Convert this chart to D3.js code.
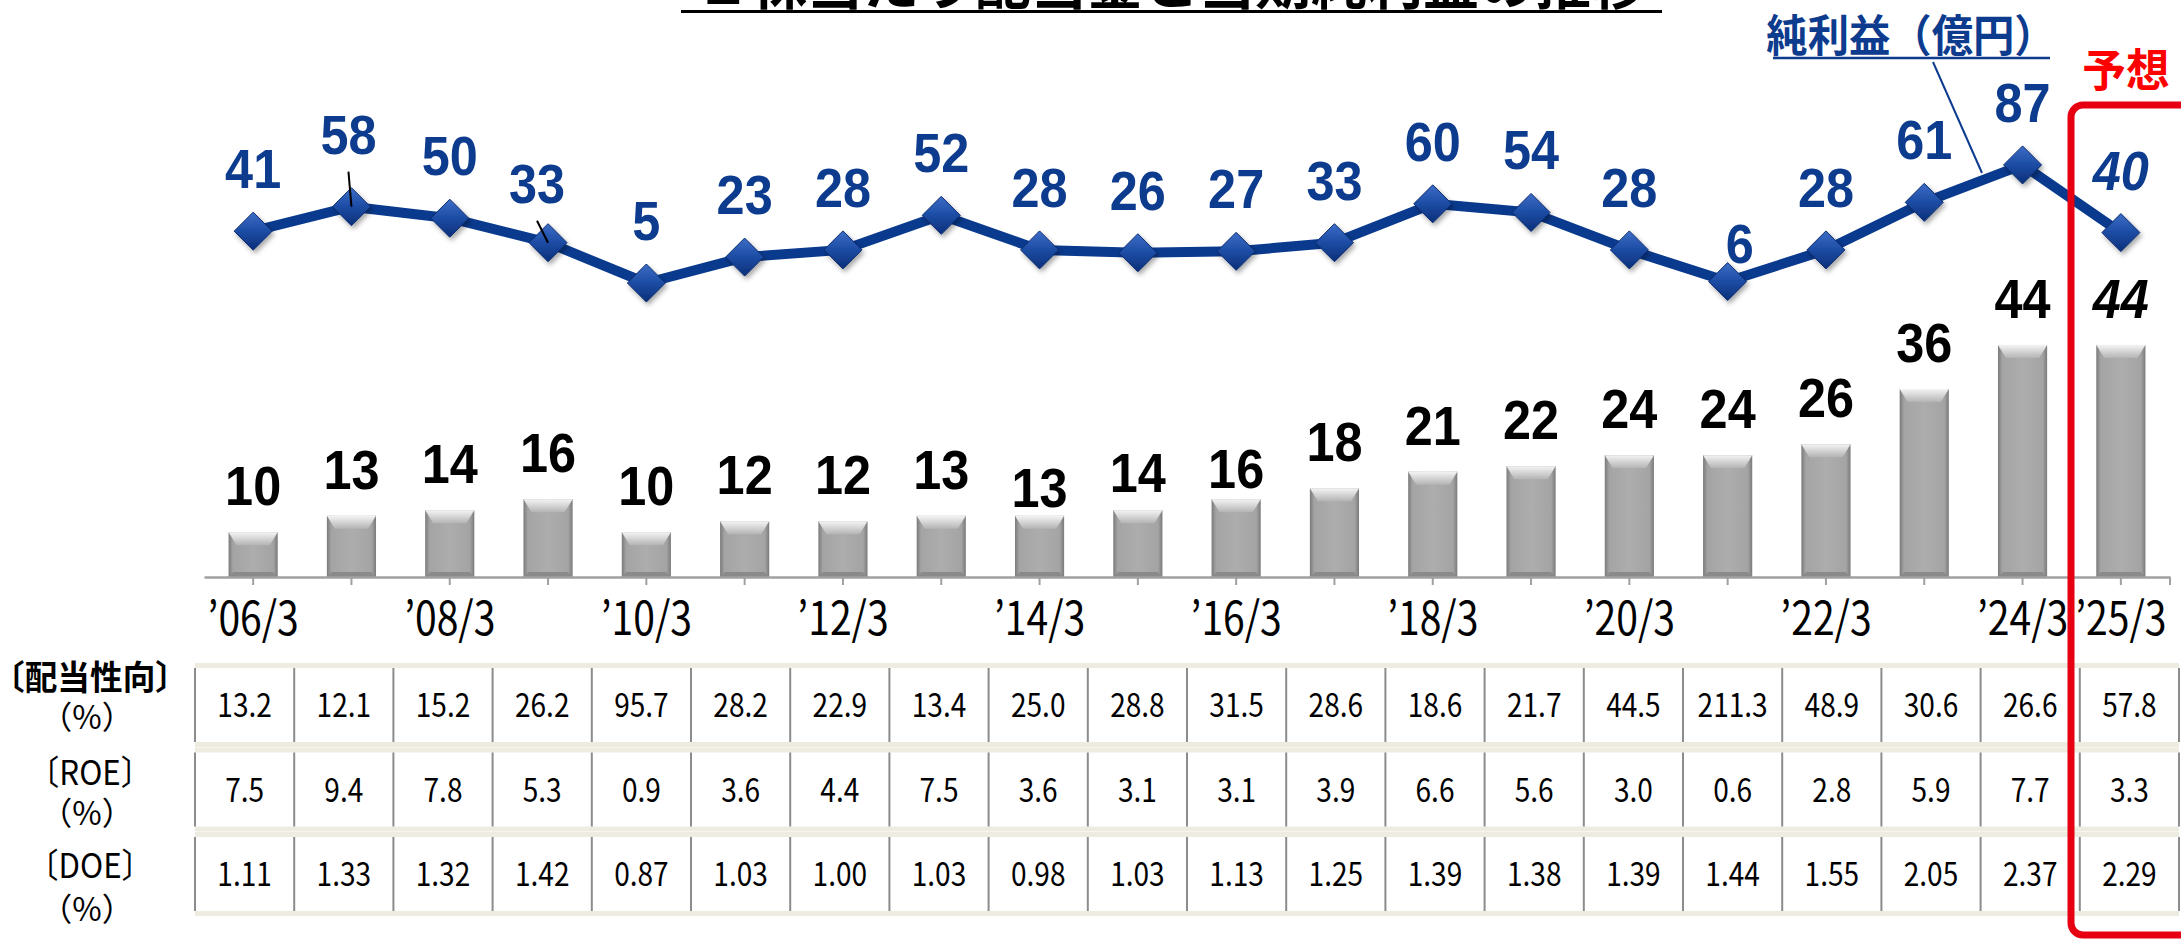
<!DOCTYPE html>
<html lang="ja">
<head>
<meta charset="UTF-8">
<title>1株当たり配当金と当期純利益の推移</title>
<script src="https://d3js.org/d3.v7.min.js"></script>
<style>
  body { margin: 0; background: #fff; }
  svg { display: block; }
</style>
</head>
<body>
<svg id="chart" width="2181" height="941"></svg>
<script>
// fiscal years (March year-end)
const categories = ["06/3", "07/3", "08/3", "09/3", "10/3", "11/3", "12/3", "13/3", "14/3", "15/3",
                    "16/3", "17/3", "18/3", "19/3", "20/3", "21/3", "22/3", "23/3", "24/3", "25/3"];
const tickLabels = ["’06/3", "’08/3", "’10/3", "’12/3", "’14/3", "’16/3", "’18/3", "’20/3", "’22/3", "’24/3", "’25/3"];
// dividend per share (yen) - bars
const dividend = [10, 13, 14, 16, 10, 12, 12, 13, 13, 14, 16, 18, 21, 22, 24, 24, 26, 36, 44, 44];
// net income (100M yen) - line
const netIncome = [41, 58, 50, 33, 5, 23, 28, 52, 28, 26, 27, 33, 60, 54, 28, 6, 28, 61, 87, 40];
// table rows
const payoutRatio = [13.2, 12.1, 15.2, 26.2, 95.7, 28.2, 22.9, 13.4, 25.0, 28.8, 31.5, 28.6, 18.6, 21.7, 44.5, 211.3, 48.9, 30.6, 26.6, 57.8];
const roe = [7.5, 9.4, 7.8, 5.3, 0.9, 3.6, 4.4, 7.5, 3.6, 3.1, 3.1, 3.9, 6.6, 5.6, 3.0, 0.6, 2.8, 5.9, 7.7, 3.3];
const doe = [1.11, 1.33, 1.32, 1.42, 0.87, 1.03, 1.00, 1.03, 0.98, 1.03, 1.13, 1.25, 1.39, 1.38, 1.39, 1.44, 1.55, 2.05, 2.37, 2.29];
const rowLabels = ["〔配当性向〕", "〔ROE〕", "〔DOE〕"];
const unitLabel = "（%）";
const forecastCat = "25/3";

const titleText = "１株当たり配当金と当期純利益の推移";
const seriesName = "純利益（億円）";
const forecastText = "予想";

const JP = '"Noto Sans CJK JP", "Noto Sans", sans-serif';
const NUM = '"Liberation Sans", Arial, sans-serif';
const BLUE = "#0d3b8e";

const svg = d3.select("#chart");
const axisY = 577;

const x = d3.scaleBand().domain(categories).range([204, 2170]).paddingInner(0.5).paddingOuter(0.25);
const xt = d3.scaleBand().domain(categories).range([195, 2179]);
const yBar = d3.scaleLinear().domain([0, 50]).range([587.4, 311.9]);
const yLine = d3.scaleLinear().domain([0, 100]).range([290.2, 146.2]);
const cx = d => x(d) + x.bandwidth() / 2;

// manual label nudges as in the original slide
const barLabelShift = {8: 18, 9: 9, 10: 16};
const lineLabelShift = {1: [-3, -10], 3: [-11, 3], 15: [12, 24]};
const leaders = [1, 3];

// text helper with horizontal squeeze
function txt(g, tx, ty, s, o) {
  return g.append("text")
    .attr("transform", `translate(${tx},${ty}) scale(${o.sx || 1},1)`)
    .attr("text-anchor", o.anchor || "middle")
    .attr("font-family", o.family || JP)
    .attr("font-size", o.size)
    .attr("font-weight", o.weight || "normal")
    .attr("font-style", o.style || "normal")
    .attr("fill", o.fill || "#000")
    .text(s);
}

// gradients
const defs = svg.append("defs");
function grad(id, horiz, stops) {
  const g = defs.append("linearGradient").attr("id", id)
    .attr("x1", 0).attr("y1", 0).attr("x2", horiz ? 1 : 0).attr("y2", horiz ? 0 : 1);
  stops.forEach(([o, c]) => g.append("stop").attr("offset", o).attr("stop-color", c));
}
grad("barSide", true, [[0, "#7a7a7a"], [0.09, "#a4a4a4"], [0.5, "#adadad"], [0.91, "#a4a4a4"], [1, "#7a7a7a"]]);
grad("barTop", false, [[0, "#f4f4f4"], [1, "#b4b4b4"]]);
grad("dia", false, [[0, "#3d6dc6"], [0.5, "#1c4ca4"], [1, "#0b2f78"]]);
const sh = defs.append("filter").attr("id", "shadow").attr("x", "-50%").attr("y", "-50%").attr("width", "200%").attr("height", "200%");
sh.append("feDropShadow").attr("dx", 2).attr("dy", 3).attr("stdDeviation", 2.5).attr("flood-color", "#000").attr("flood-opacity", 0.35);

// title (cut off at the top of the slide)
txt(svg, 1171, 4, titleText, {size: 56, weight: "bold"});
svg.append("line").attr("x1", 681).attr("x2", 1662).attr("y1", 11.5).attr("y2", 11.5)
  .attr("stroke", "#000").attr("stroke-width", 3);

// bars
const bars = svg.append("g");
bars.selectAll("rect").data(categories).join("rect")
  .attr("x", d => x(d))
  .attr("y", (d, i) => yBar(dividend[i]))
  .attr("width", x.bandwidth())
  .attr("height", (d, i) => axisY - yBar(dividend[i]))
  .attr("fill", "url(#barSide)");
bars.selectAll("path.top").data(categories).join("path").attr("class", "top")
  .attr("d", (d, i) => {
    const x0 = x(d), x1 = x0 + x.bandwidth(), y0 = yBar(dividend[i]);
    return `M${x0},${y0}H${x1}L${x1 - 8},${y0 + 13}H${x0 + 8}Z`;
  })
  .attr("fill", "url(#barTop)");
bars.selectAll("path.bot").data(categories).join("path").attr("class", "bot")
  .attr("d", d => {
    const x0 = x(d), x1 = x0 + x.bandwidth();
    return `M${x0},${axisY}H${x1}L${x1 - 5},${axisY - 5}H${x0 + 5}Z`;
  })
  .attr("fill", "#8a8a8a");

// x axis
const axis = d3.axisBottom(x).tickSize(8).tickSizeOuter(0)
  .tickFormat(d => tickLabels.includes("’" + d) ? "’" + d : "");
const ax = svg.append("g").attr("transform", `translate(0,${axisY})`).call(axis);
ax.select(".domain").attr("stroke", "#a0a0a0").attr("stroke-width", 2.5);
ax.selectAll(".tick line").attr("stroke", "#a0a0a0").attr("stroke-width", 2);
ax.selectAll(".tick text")
  .attr("y", 58).attr("dy", null)
  .attr("fill", "#000")
  .attr("font-family", JP).attr("font-size", 46)
  .attr("transform", "scale(0.85,1)");
ax.append("line").attr("x1", x.range()[1]).attr("x2", x.range()[1]).attr("y1", 0).attr("y2", 8)
  .attr("stroke", "#a0a0a0").attr("stroke-width", 2);

// bar value labels
const barLab = svg.append("g");
categories.forEach((c, i) => {
  txt(barLab, cx(c), yBar(dividend[i]) - 27 + (barLabelShift[i] || 0), dividend[i],
    {family: NUM, size: 56, weight: "bold", sx: 0.9, style: c === forecastCat ? "italic" : "normal"});
});

// net income line
const line = d3.line().x((d, i) => cx(categories[i])).y(d => yLine(d));
svg.append("path").datum(netIncome)
  .attr("d", line)
  .attr("fill", "none")
  .attr("stroke", "#0a3a8e")
  .attr("stroke-width", 10)
  .attr("stroke-linejoin", "round");

svg.append("g").selectAll("path").data(netIncome).join("path")
  .attr("transform", (d, i) => `translate(${cx(categories[i])},${yLine(d)})`)
  .attr("d", "M0,-19L19,0L0,19L-19,0Z")
  .attr("fill", "url(#dia)")
  .attr("stroke", "#0a2c70")
  .attr("stroke-width", 1)
  .attr("filter", "url(#shadow)");

// net income labels and leader lines
const lineLab = svg.append("g");
categories.forEach((c, i) => {
  const [dx, dy] = lineLabelShift[i] || [0, 0];
  const lx = cx(c) + dx, ly = yLine(netIncome[i]) - 43 + dy;
  txt(lineLab, lx, ly, netIncome[i],
    {family: NUM, size: 56, weight: "bold", sx: 0.9, fill: BLUE, style: c === forecastCat ? "italic" : "normal"});
  if (leaders.includes(i)) {
    lineLab.append("line")
      .attr("x1", lx).attr("y1", ly + 18)
      .attr("x2", cx(c)).attr("y2", yLine(netIncome[i]))
      .attr("stroke", "#000").attr("stroke-width", 2);
  }
});

// series name with leader line
txt(svg, 1911, 52, seriesName, {size: 44, weight: "bold", sx: 0.94, fill: BLUE});
svg.append("line").attr("x1", 1773).attr("x2", 2050).attr("y1", 58).attr("y2", 58)
  .attr("stroke", BLUE).attr("stroke-width", 2.5);
svg.append("line").attr("x1", 1933).attr("y1", 62).attr("x2", 1982).attr("y2", 173)
  .attr("stroke", BLUE).attr("stroke-width", 2);

// table
const tableRows = [payoutRatio, roe, doe];
const decimals = [1, 1, 2];
const rowTop = i => 663 + 84.5 * i, rowH = 84, band = 5;
const tbl = svg.append("g");
tableRows.forEach((vals, ri) => {
  const t = rowTop(ri);
  const [x0, x1] = xt.range();
  tbl.append("rect").attr("x", x0).attr("y", t).attr("width", x1 - x0).attr("height", rowH).attr("fill", "#fff");
  tbl.append("rect").attr("x", x0).attr("y", t).attr("width", x1 - x0).attr("height", band).attr("fill", "#eeece1");
  tbl.append("rect").attr("x", x0).attr("y", t + rowH - band).attr("width", x1 - x0).attr("height", band).attr("fill", "#eeece1");
  const edges = categories.map(c => xt(c)).concat([x1]);
  tbl.selectAll(null).data(edges).join("line")
    .attr("x1", d => d).attr("x2", d => d)
    .attr("y1", t + band).attr("y2", t + rowH - band)
    .attr("stroke", "#8c8c8c").attr("stroke-width", 2);
  categories.forEach((c, i) => {
    txt(tbl, xt(c) + xt.bandwidth() / 2, t + 54, vals[i].toFixed(decimals[ri]), {size: 33, sx: 0.85});
  });
});

// row labels
const labBase = [690, 785, 878], unitBase = [729, 825, 921];
const labSx = [0.96, 0.92, 0.92];
rowLabels.forEach((s, i) => {
  txt(svg, 90, labBase[i], s, {size: 34, sx: labSx[i], weight: i === 0 ? "bold" : "normal"});
  txt(svg, 87, unitBase[i], unitLabel, {size: 32, sx: 1.0});
});

// forecast box
svg.append("rect")
  .attr("x", 2071).attr("y", 105).attr("width", 130).attr("height", 830).attr("rx", 12)
  .attr("fill", "none").attr("stroke", "#e60012").attr("stroke-width", 7);
txt(svg, 2126, 87, forecastText, {size: 45, weight: "bold", sx: 0.97, fill: "#ff0000"});
</script>
</body>
</html>
